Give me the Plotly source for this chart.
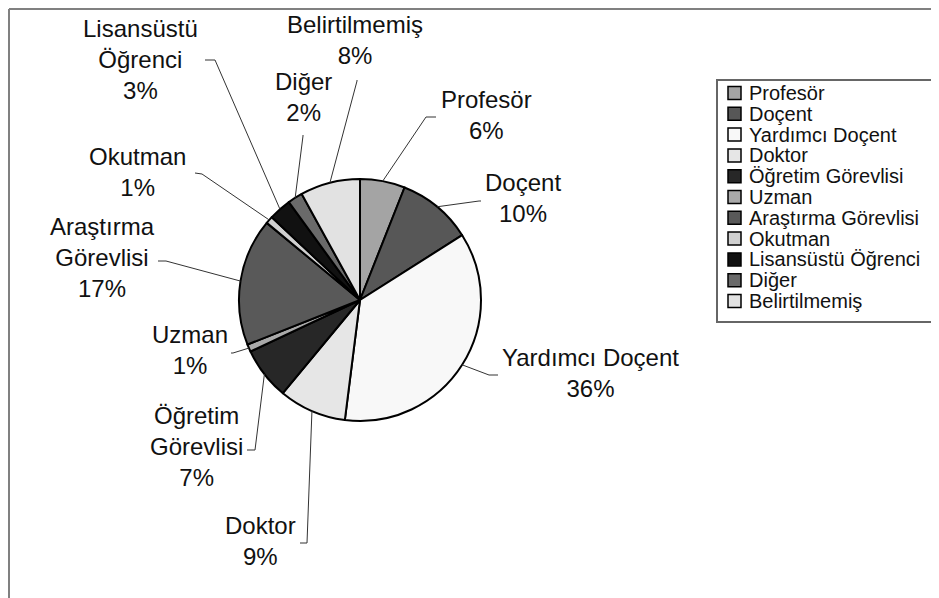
import math
import plotly.graph_objects as go

# ---------------- data ----------------
categories = ["Profesör", "Doçent", "Yardımcı Doçent", "Doktor", "Öğretim Görevlisi",
              "Uzman", "Araştırma Görevlisi", "Okutman", "Lisansüstü Öğrenci", "Diğer",
              "Belirtilmemiş"]
values = [6, 10, 36, 9, 7, 1, 17, 1, 3, 2, 8]
pie_labels = ["Profesör", "Doçent", "Yardımcı Doçent", "Doktor", "Öğretim<br>Görevlisi",
              "Uzman", "Araştırma<br>Görevlisi", "Okutman", "Lisansüstü<br>Öğrenci", "Diğer",
              "Belirtilmemiş"]

# ---------------- styles / layout ----------------
colors = ["#a4a4a4", "#575757", "#f8f8f8", "#e6e6e6", "#272727",
          "#a9a9a9", "#595959", "#d0d0d0", "#111111", "#6a6a6a", "#e2e2e2"]
W, H = 939, 598
OFF = 8                              # page body margin in the browser
CX, CY, R = 360, 300, 121            # pie centre / radius in page pixels
FONT = "Liberation Sans, Arial, sans-serif"

# label centres (page px) and leader start/elbow points (page px)
label_pos = [(486, 115), (523, 198), (590, 373), (261, 541), (196, 446),
             (190, 350), (102, 258), (137, 172), (140, 59), (303, 97), (355, 40)]
leader_pts = [((436, 117), (426, 117)), ((481, 201), (479, 201)), ((498, 375), (489, 375)),
              ((300, 543), (307, 543)), ((247, 450), (255, 450)), ((231, 353), (233, 353)),
              ((158, 261), (166, 261)), ((195, 173), (202, 174)), ((205, 60), (215, 60)),
              ((303, 135), (303, 136)), ((357, 80), (357, 81))]


def px(x):
    return (x - OFF) / W


def py(y):
    return 1 - (y - OFF) / H


fig = go.Figure()
fig.add_trace(go.Pie(
    labels=categories, values=values, sort=False, direction="clockwise", rotation=0,
    marker=dict(colors=colors, line=dict(color="#000000", width=2)),
    textinfo="none", hoverinfo="label+percent", showlegend=False,
    domain=dict(x=[px(CX - R), px(CX + R)], y=[py(CY + R), py(CY - R)]),
))

shapes = []
annotations = []
total = sum(values)
cum = 0
for i, v in enumerate(values):
    theta = 2 * math.pi * (cum + v / 2) / total
    cum += v
    tx = CX + R * math.sin(theta)
    ty = CY - R * math.cos(theta)
    (sx, sy), (ex, ey) = leader_pts[i]
    shapes.append(dict(type="path", xref="paper", yref="paper",
                       path=f"M {px(sx)} {py(sy)} L {px(ex)} {py(ey)} L {px(tx)} {py(ty)}",
                       line=dict(color="#333333", width=1)))
    lx, ly = label_pos[i]
    annotations.append(dict(xref="paper", yref="paper", x=px(lx), y=py(ly),
                            xanchor="center", yanchor="middle", showarrow=False,
                            text=f"{pie_labels[i]}<br>{v / total * 100:.0f}%",
                            font=dict(family=FONT, size=24, color="#111111")))

# chart border (top and left)
shapes.append(dict(type="line", xref="paper", yref="paper", x0=px(9), x1=1, y0=py(9), y1=py(9),
                   line=dict(color="#808080", width=2)))
shapes.append(dict(type="line", xref="paper", yref="paper", x0=px(9), x1=px(9), y0=py(9), y1=0,
                   line=dict(color="#808080", width=2)))

# legend box
LX0, LX1, LY0, LY1 = 717, 937, 80, 322
shapes.append(dict(type="rect", xref="paper", yref="paper", x0=px(LX0), x1=px(LX1),
                   y0=py(LY1), y1=py(LY0), line=dict(color="#666666", width=2),
                   fillcolor="rgba(0,0,0,0)"))
ROW0, ROWSTEP, SQ = 93, 20.8, 13
for i, name in enumerate(categories):
    yc = ROW0 + i * ROWSTEP
    shapes.append(dict(type="rect", xref="paper", yref="paper",
                       x0=px(728), x1=px(728 + SQ), y0=py(yc + SQ / 2), y1=py(yc - SQ / 2),
                       fillcolor=colors[i], line=dict(color="#000000", width=1.5)))
    annotations.append(dict(xref="paper", yref="paper", x=px(747), y=py(yc),
                            xanchor="left", yanchor="middle", showarrow=False, text=name,
                            font=dict(family=FONT, size=20, color="#111111")))

fig.update_layout(width=W, height=H, margin=dict(l=0, r=0, t=0, b=0),
                  paper_bgcolor="white", plot_bgcolor="white",
                  shapes=shapes, annotations=annotations, showlegend=False)

fig.write_html("out.html")
